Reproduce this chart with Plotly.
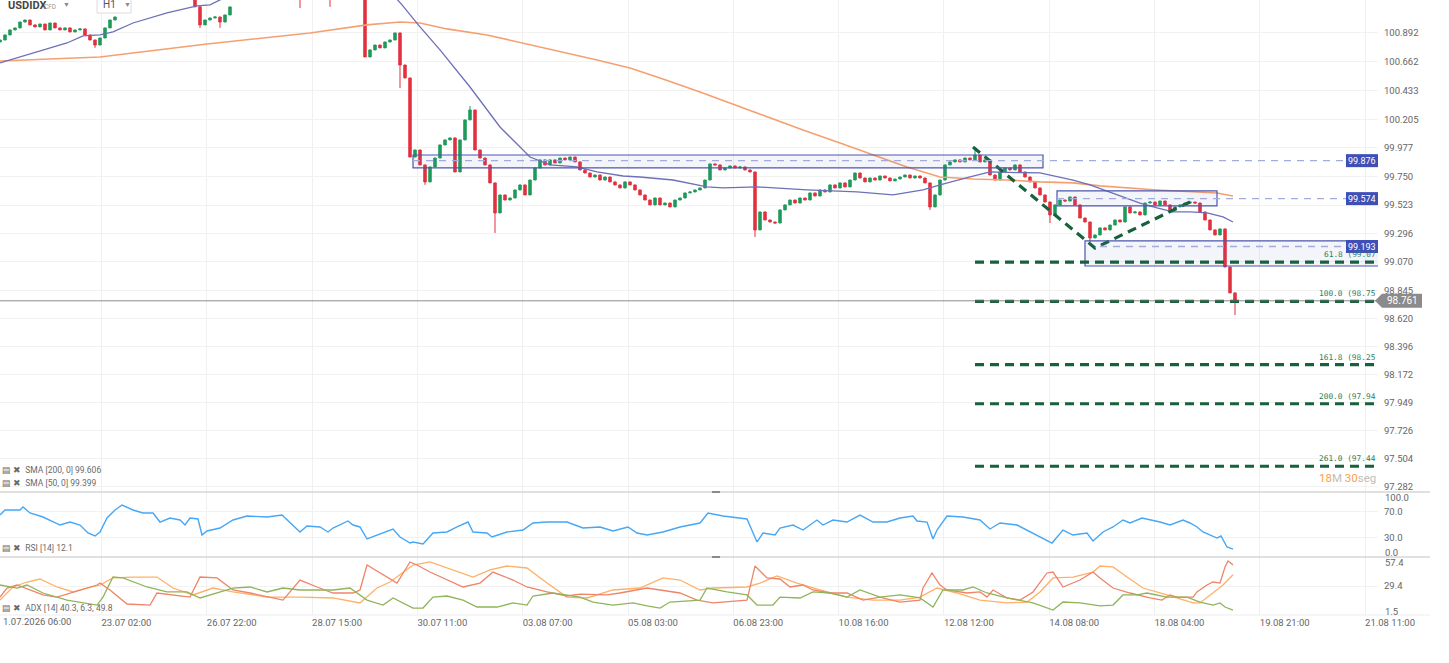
import plotly.graph_objects as go

# USDIDX H1; one candle here stands for ~2 hours
closes = [
    100.836, 100.876, 100.916, 100.932, 100.979, 100.995, 100.956, 100.940, 100.963, 100.916,
    100.971, 100.932, 100.916, 100.932, 100.900, 100.916, 100.924, 100.876, 100.836, 100.796,
    100.852, 100.932, 100.995, 101.019, 101.22, 101.31, 101.38, 101.45, 101.52, 101.48,
    101.55, 101.60, 101.52, 101.46, 101.40, 101.44, 101.36, 101.28, 101.20, 101.10,
    100.956, 100.995, 101.011, 101.019, 100.979, 101.035, 101.099, 101.20, 101.28, 101.35,
    101.42, 101.38, 101.45, 101.50, 101.44, 101.36, 101.30, 101.26, 101.22, 101.24,
    101.18, 101.25, 101.32, 101.38, 101.35, 101.30, 101.20, 101.28, 101.34, 101.40,
    101.36, 101.32, 101.28, 100.701, 100.757, 100.796, 100.773, 100.820, 100.836, 100.892,
    100.637, 100.534, 99.905, 99.961, 99.842, 99.707, 99.826, 99.897, 100.001, 100.041,
    100.057, 99.786, 100.041, 100.200, 100.279, 99.961, 99.897, 99.842, 99.699, 99.460,
    99.603, 99.563, 99.579, 99.643, 99.683, 99.603, 99.722, 99.818, 99.882, 99.842,
    99.882, 99.858, 99.897, 99.882, 99.905, 99.866, 99.802, 99.778, 99.746, 99.762,
    99.722, 99.746, 99.707, 99.683, 99.659, 99.707, 99.683, 99.643, 99.603, 99.563,
    99.524, 99.579, 99.524, 99.539, 99.508, 99.563, 99.579, 99.619, 99.627, 99.643,
    99.659, 99.722, 99.850, 99.842, 99.802, 99.818, 99.834, 99.818, 99.826, 99.802,
    99.786, 99.325, 99.468, 99.404, 99.388, 99.380, 99.484, 99.524, 99.563, 99.539,
    99.579, 99.563, 99.619, 99.595, 99.643, 99.627, 99.683, 99.659, 99.699, 99.667,
    99.722, 99.778, 99.738, 99.707, 99.738, 99.722, 99.754, 99.738, 99.715, 99.730,
    99.746, 99.762, 99.738, 99.754, 99.738, 99.699, 99.508, 99.603, 99.722, 99.842,
    99.866, 99.882, 99.866, 99.897, 99.882, 99.921, 99.866, 99.882, 99.762, 99.722,
    99.786, 99.818, 99.802, 99.842, 99.786, 99.746, 99.707, 99.659, 99.603, 99.547,
    99.444, 99.524, 99.563, 99.555, 99.587, 99.524, 99.420, 99.388, 99.261, 99.285,
    99.341, 99.325, 99.364, 99.404, 99.388, 99.508, 99.460, 99.468, 99.444, 99.539,
    99.547, 99.524, 99.555, 99.524, 99.484, 99.508, 99.524, 99.539, 99.547, 99.539,
    99.468, 99.404, 99.325, 99.285, 99.333, 99.030, 98.824, 98.760,
]
first_open = 100.82
open_gaps = {24: 101.20, 47: 101.18}
wick_high = {94: 100.311, 195: 99.985, 247: 98.800}
wick_low = {19: 100.773, 40: 100.932, 44: 100.932, 60: 101.09, 66: 101.10, 80: 100.454,
            85: 99.683, 99: 99.301, 151: 99.269, 186: 99.484, 210: 99.380, 218: 99.229,
            247: 98.648}

sma200_x = [0, 20, 41.4, 62, 73.4, 80, 84, 89.4, 97.4, 104.6, 112.6, 119.4, 126, 132, 140, 148,
            160.6, 168, 174.6, 181.4, 188, 194.6, 201.4, 208, 214.6, 220, 231.4, 243.4, 246.6]
sma200_y = [100.669, 100.701, 100.804, 100.892, 100.956, 100.979, 100.971, 100.924, 100.876,
            100.812, 100.741, 100.677, 100.613, 100.534, 100.422, 100.303, 100.120, 100.017,
            99.921, 99.826, 99.746, 99.730, 99.722, 99.707, 99.699, 99.675, 99.643, 99.619, 99.595]
sma50_x = [0, 6.6, 13.4, 16.6, 20, 22.6, 26.6, 33.4, 39.4, 42, 48, 60, 72, 77, 80.4, 84, 88, 94,
           100, 106, 110, 115.4, 119.4, 124.6, 128, 134.6, 141.4, 144.6, 151.4, 161.4, 171.4,
           178.6, 184.6, 188, 194, 198, 208, 214.6, 218, 224.6, 228, 231.4, 234.6, 238, 241.4,
           244.6, 246.6]
sma50_y = [100.653, 100.733, 100.812, 100.868, 100.876, 100.900, 100.971, 101.051, 101.107,
           101.115, 101.234, 101.473, 101.473, 101.27, 101.115, 100.940, 100.757, 100.462,
           100.144, 99.905, 99.842, 99.826, 99.786, 99.754, 99.746, 99.722, 99.667, 99.659,
           99.667, 99.643, 99.627, 99.603, 99.643, 99.683, 99.746, 99.786, 99.778, 99.722,
           99.683, 99.587, 99.539, 99.500, 99.468, 99.468, 99.460, 99.428, 99.388]

rsi_x = [0, 1, 4, 4.6, 6, 8.6, 12, 14, 16, 17.6, 19, 20, 21.4, 23, 24.4, 25.4, 26.6, 28.6, 30.6, 32,
         34, 36, 37, 38, 39.6, 40.4, 41.4, 44, 46.6, 49.4, 53.4, 56.4, 58, 60, 61.4, 64, 65.6, 66.6,
         69.6, 70.6, 72, 73.4, 75.4, 78.6, 80, 82, 82.6, 84.6, 86.6, 89.4, 91.4, 93.6, 94.6, 97.4,
         98.4, 101.4, 104.6, 106.6, 109.4, 113.4, 116.6, 120, 122.6, 125.6, 127.4, 129.4, 132.6,
         136, 140, 141.6, 144.6, 149.4, 151.4, 152.6, 155, 156, 158.6, 160.6, 163.4, 164.6, 166.6,
         169.4, 172, 174.6, 177.4, 180, 182.6, 183.4, 185.4, 186.6, 187.4, 189.4, 192.6, 196, 198,
         200, 203.4, 206.6, 210.4, 212.6, 214.6, 217.4, 218.6, 220.6, 222.6, 224.6, 226, 228.4,
         230.6, 232, 234, 236.6, 238, 239.4, 240.6, 242, 243.4, 244.2, 245.4, 246.6]
rsi_y = [64.6, 72.3, 72.3, 76.9, 67.7, 61.5, 49.2, 53.8, 49.2, 36.9, 32.3, 38.5, 60.0, 72.3, 80.0,
         76.9, 72.3, 67.7, 67.7, 53.8, 60.0, 56.9, 49.2, 60.0, 58.5, 33.8, 40.0, 44.6, 56.9, 63.1,
         61.5, 64.6, 52.3, 38.5, 47.7, 46.2, 38.5, 44.6, 55.4, 49.2, 46.2, 27.7, 33.8, 43.1, 30.8,
         21.5, 23.1, 20.0, 36.9, 38.5, 46.2, 53.8, 38.5, 36.9, 30.8, 38.5, 41.5, 52.3, 53.8, 53.8,
         44.6, 46.2, 40.0, 46.2, 36.9, 33.8, 38.5, 46.2, 52.3, 67.7, 63.1, 58.5, 23.1, 36.9, 33.8,
         44.6, 49.2, 41.5, 56.9, 49.2, 56.9, 53.8, 64.6, 53.8, 53.8, 60.0, 63.1, 55.4, 53.8, 27.7,
         41.5, 63.1, 61.5, 56.9, 43.1, 52.3, 49.2, 36.9, 21.5, 41.5, 33.8, 36.9, 24.6, 38.5, 46.2,
         56.9, 52.3, 60.0, 56.9, 53.8, 49.2, 56.9, 52.3, 46.2, 38.5, 33.8, 29.2, 32.3, 15.4, 12.1]

adx_x = [0, 2.6, 5.4, 8, 11.4, 14.6, 17.4, 20, 22.6, 26.6, 31.4, 34.6, 38.6, 42.6, 46.6, 53.4, 60,
         66.6, 72, 75.4, 78, 82.6, 86, 89.4, 94.6, 98, 101.4, 105.4, 109.4, 113.4, 117.4, 122.6,
         128, 132.6, 136, 140, 142.6, 149.4, 152, 155.4, 159.4, 164, 169.4, 174.6, 180, 184,
         187.4, 191.4, 196, 201.4, 205.4, 208, 210.6, 214.6, 218.6, 220, 222.6, 225.4, 228.6,
         233.4, 238.6, 240, 242, 244.6, 246.6]
adx_y = [15.9, 28.5, 33.3, 36.2, 28.5, 23.7, 27.5, 30.4, 37.2, 38.1, 38.1, 27.5, 20.8, 27.5, 23.7,
         18.8, 18.8, 17.9, 13.1, 27.5, 33.3, 49.7, 52.6, 46.8, 38.1, 44.9, 48.7, 46.8, 32.3, 18.8,
         17.9, 25.6, 27.5, 37.2, 35.2, 25.6, 27.5, 28.5, 32.3, 39.1, 32.3, 25.6, 18.8, 15.9, 15.9,
         18.8, 27.5, 22.7, 15.9, 13.1, 14.0, 23.7, 37.2, 38.1, 42.9, 48.7, 47.8, 38.1, 27.5, 20.8,
         13.1, 13.1, 20.8, 30.4, 40.3]
mdi_x = [0, 1.4, 3.4, 8.6, 11.4, 17.4, 19.4, 20, 22, 25.4, 30, 31.4, 38, 40, 43.4, 46.6, 50, 56.6,
         60, 63.4, 66.6, 70.6, 72, 73.4, 76.6, 79.4, 82, 83.4, 86, 89.4, 92.6, 96, 98.6, 102.6,
         105.4, 109.4, 113.4, 116, 121.4, 124, 127.4, 129.4, 136, 139.4, 142.6, 149.4, 151, 153.4,
         156, 158, 160.6, 162.6, 166, 169.4, 172.6, 176, 180, 184, 184.6, 186.4, 188, 189.4, 193.4,
         196, 197.4, 198.6, 201.4, 204, 206.6, 209.4, 210.6, 212.6, 216, 218.6, 220, 222.6, 226,
         230, 232.4, 234, 235.4, 238.6, 239.4, 241.4, 242.6, 244, 245, 245.6, 246.6]
mdi_y = [18.8, 27.5, 30.4, 20.8, 18.8, 27.5, 30.4, 32.3, 25.6, 12.1, 11.1, 22.7, 18.8, 38.1, 37.2,
         25.6, 22.7, 15.9, 35.2, 28.5, 22.7, 22.7, 25.6, 49.7, 40.1, 32.3, 52.6, 49.7, 42.9, 35.2,
         28.5, 32.3, 42.9, 35.2, 28.5, 23.7, 19.8, 21.7, 20.8, 22.7, 25.6, 27.5, 22.7, 15.9, 13.1,
         15.9, 48.7, 37.2, 36.2, 28.5, 30.4, 25.6, 22.7, 22.7, 15.9, 18.8, 14.0, 15.9, 27.5, 42.0,
         30.4, 25.6, 22.7, 23.7, 18.8, 25.6, 17.9, 15.9, 23.7, 42.0, 42.9, 28.5, 35.2, 42.9, 37.2,
         27.5, 22.7, 17.9, 15.9, 20.8, 18.8, 18.8, 23.7, 30.4, 33.3, 32.3, 47.8, 53.5, 49.8]
pdi_x = [0, 3.4, 5.4, 8.6, 13.4, 19.4, 20.6, 22.6, 24.6, 29.4, 33.4, 37.4, 40, 46.6, 50, 53.4, 56.6,
         60, 66.6, 70, 73.4, 76.6, 78.6, 82.6, 84.6, 86.6, 89.4, 92.6, 95.4, 99.4, 102.6, 105.4,
         106.6, 110.6, 116, 118.6, 122.6, 126.6, 129.4, 132, 134, 140, 141.4, 145.4, 149.4, 151.4,
         154.6, 156, 160, 162.6, 166, 169.4, 172, 176, 180, 184, 186.6, 188.6, 192.6, 194.6,
         197.4, 201.4, 206.6, 210.6, 212.6, 216, 220, 222.6, 224.6, 227.4, 229.4, 233.4, 237.4,
         240, 242.6, 244, 245, 246.6]
pdi_y = [30.4, 27.5, 30.4, 22.7, 15.9, 11.1, 18.8, 38.1, 37.2, 28.5, 23.7, 23.7, 17.9, 27.5, 28.5,
         23.7, 27.5, 25.6, 25.6, 27.5, 15.9, 11.1, 17.9, 8.2, 8.2, 18.8, 19.8, 15.9, 9.2, 9.2, 13.1,
         11.1, 19.8, 22.7, 18.8, 14.0, 11.1, 13.1, 10.2, 8.2, 14.0, 15.9, 27.5, 23.7, 20.8, 11.1,
         11.1, 18.8, 17.9, 23.7, 22.7, 18.8, 25.6, 18.8, 20.8, 17.9, 9.2, 25.6, 25.6, 28.5, 22.7,
         17.9, 13.1, 6.3, 14.0, 13.1, 10.2, 11.1, 20.8, 20.8, 22.7, 18.8, 18.8, 14.0, 11.1, 13.1,
         9.2, 6.3]

price_ticks = [100.892, 100.662, 100.433, 100.205, 99.977, 99.750, 99.523, 99.296, 99.070,
               98.845, 98.620, 98.396, 98.172, 97.949, 97.726, 97.504, 97.282]
time_ticks = [20.3, 41.36, 62.42, 83.48, 104.54, 125.6, 146.66, 167.72, 188.78, 209.84, 230.9,
              251.96, 273.02]
time_labels = ["23.07 02:00", "26.07 22:00", "28.07 15:00", "30.07 11:00", "03.08 07:00",
               "05.08 03:00", "06.08 23:00", "10.08 16:00", "12.08 12:00", "14.08 08:00",
               "18.08 04:00", "19.08 21:00", "21.08 11:00"]

zones = [(82.6, 208.6, 99.818, 99.921), (211.4, 243.4, 99.516, 99.635), (217, 276, 99.038, 99.237)]
levels = [99.876, 99.574, 99.193]
level_start = [82.6, 211.4, 220]
last_price = 98.761
fib_pct = [61.8, 100.0, 161.8, 200.0, 261.0]
fib_price = [99.068, 98.757, 98.253, 97.942, 97.445]
fib_text = ["61.8 (99.07", "100.0 (98.75", "161.8 (98.25", "200.0 (97.94", "261.0 (97.44"]
zigzag_x = [194.6, 219, 238.4]
zigzag_y = [99.985, 99.181, 99.555]

# ---- layout constants (pixels of the 1449x663 page) ----
W, H = 1449, 663
PW = 1378
FONT = "Roboto, Arial, sans-serif"
GREEN_D = "#17623c"
LEVEL_BLUE = "#3f4fb5"
PRICE_RANGE = (97.240, 101.154)
MAIN_TOP, MAIN_BOTTOM = 0, 492


def px(x):
    return x / PW


def py(y):
    return 1 - y / H


def price_py(p):
    # pixel row of a price inside the main panel
    lo, hi = PRICE_RANGE
    return MAIN_TOP + (hi - p) / (hi - lo) * (MAIN_BOTTOM - MAIN_TOP)


opens = [first_open] + closes[:-1]
for i, v in open_gaps.items():
    opens[i] = v
highs = [max(o, c) for o, c in zip(opens, closes)]
lows = [min(o, c) for o, c in zip(opens, closes)]
for i, v in wick_high.items():
    highs[i] = v
for i, v in wick_low.items():
    lows[i] = v
bars = list(range(len(closes)))

fig = go.Figure()
fig.add_trace(go.Candlestick(
    x=bars, open=opens, high=highs, low=lows, close=closes, whiskerwidth=0,
    increasing=dict(line=dict(color="#1e9a5a", width=1), fillcolor="#1e9a5a"),
    decreasing=dict(line=dict(color="#e2313f", width=1), fillcolor="#e2313f"),
    hoverinfo="skip", showlegend=False))
fig.add_trace(go.Scatter(x=sma200_x, y=sma200_y, mode="lines", line=dict(color="#f5a071", width=1.6),
                         hoverinfo="skip", showlegend=False))
fig.add_trace(go.Scatter(x=sma50_x, y=sma50_y, mode="lines", line=dict(color="#6d70b8", width=1.3),
                         hoverinfo="skip", showlegend=False))
fig.add_trace(go.Scatter(x=zigzag_x, y=zigzag_y, mode="lines",
                         line=dict(color=GREEN_D, width=3.2, dash="9px,6px"),
                         hoverinfo="skip", showlegend=False))
fig.add_trace(go.Scatter(x=rsi_x, y=rsi_y, yaxis="y2", mode="lines",
                         line=dict(color="#45a7f5", width=1.4), hoverinfo="skip", showlegend=False))
for xs, ys, col in [(adx_x, adx_y, "#ffb066"), (mdi_x, mdi_y, "#ee8468"), (pdi_x, pdi_y, "#8fb55a")]:
    fig.add_trace(go.Scatter(x=xs, y=ys, yaxis="y3", mode="lines", line=dict(color=col, width=1.3),
                             hoverinfo="skip", showlegend=False))

shapes = []
for x0, x1, lo, hi in zones:
    shapes.append(dict(type="rect", xref="x", yref="y", x0=x0, x1=x1, y0=lo, y1=hi,
                       line=dict(color="#4c56ad", width=1.2), fillcolor="rgba(92,107,192,0.07)"))
for lv, x0 in zip(levels, level_start):
    shapes.append(dict(type="line", xref="x", yref="y", x0=x0, x1=269.2, y0=lv, y1=lv,
                       line=dict(color="#a3abdc", width=1.3, dash="7px,6px")))
for fp in fib_price:
    shapes.append(dict(type="line", xref="x", yref="y", x0=195, x1=276, y0=fp, y1=fp,
                       line=dict(color=GREEN_D, width=3.2, dash="9px,6px")))
shapes.append(dict(type="line", xref="x", yref="y", x0=0, x1=276, y0=last_price, y1=last_price,
                   line=dict(color="#707070", width=0.8)))

# price labels on the right edge, placed in page pixels so nothing clips them
for lv in levels:
    yc = price_py(lv)
    shapes.append(dict(type="rect", xref="paper", yref="paper", x0=px(1346), x1=px(1378),
                       y0=py(yc + 6.5), y1=py(yc - 6.5), line=dict(width=0), fillcolor=LEVEL_BLUE))
yc = price_py(last_price)
shapes.append(dict(type="path", xref="paper", yref="paper", fillcolor="#8b8b8b", line=dict(width=0),
                   path=(f"M {px(1375)},{py(yc)} L {px(1382)},{py(yc - 7)} "
                         f"L {px(1422)},{py(yc - 7)} L {px(1422)},{py(yc + 7)} "
                         f"L {px(1382)},{py(yc + 7)} Z")))
for yy in (492, 557):
    shapes.append(dict(type="line", xref="paper", yref="paper", x0=0, x1=px(1430), y0=py(yy), y1=py(yy),
                       line=dict(color="#d6d6d6", width=1.5)))
    shapes.append(dict(type="line", xref="paper", yref="paper", x0=px(712), x1=px(720),
                       y0=py(yy), y1=py(yy), line=dict(color="#8a8a8a", width=2)))
shapes.append(dict(type="line", xref="paper", yref="paper", x0=0, x1=px(1430), y0=py(615), y1=py(615),
                   line=dict(color="#ededed", width=1)))
shapes.append(dict(type="rect", xref="paper", yref="paper", x0=px(97), x1=px(131), y0=py(13), y1=py(-3),
                   line=dict(color="#dcdcdc", width=1), fillcolor="white"))


def note(text, x, y, size=9.5, color="#666", xanchor="left", family=FONT, **kw):
    return dict(text=text, x=px(x), y=py(y), xref="paper", yref="paper", xanchor=xanchor,
                yanchor="middle", showarrow=False, font=dict(size=size, color=color, family=family), **kw)


annotations = [
    note("<b>USDIDX</b>", 6, 6, size=11, color="#454545"),
    note("CFD", 42, 7, size=6.5, color="#9a9a9a"),
    note("▼", 61, 5, size=7, color="#8a8a8a"),
    note("H1", 101, 5, size=10, color="#555"),
    note("▼", 122, 5, size=7, color="#8a8a8a"),
    note("▤ ✖  SMA [200, 0] 99.606", 0, 470, size=8.5, color="#6a6a6a"),
    note("▤ ✖  SMA [50, 0] 99.399", 0, 483, size=8.5, color="#6a6a6a"),
    note("▤ ✖  RSI [14] 12.1", 0, 548, size=8.5, color="#6a6a6a"),
    note("▤ ✖  ADX [14] 40.3, 6.3, 49.8", 0, 608, size=8.5, color="#6a6a6a"),
    note("1.07.2026 06:00", 1, 621),
    note("100.0", 1383, 497),
    note("0.0", 1383, 552),
    note("57.4", 1383, 562),
    note("1.5", 1383, 611),
    note("<span style='color:#f7a14a'>18</span><span style='color:#bdbdbd'>M </span>"
         "<span style='color:#f7a14a'>30</span><span style='color:#bdbdbd'>seg</span>",
         1378, 478, size=11.5, xanchor="right"),
]
for lv in levels:
    annotations.append(note(f"{lv:.3f}", 1362, price_py(lv), size=9, color="white", xanchor="center"))
annotations.append(note(f"{last_price:.3f}", 1403, price_py(last_price), size=10, color="white",
                        xanchor="center"))
for fp, txt in zip(fib_price, fib_text):
    annotations.append(dict(text=txt, x=1, y=fp, xref="paper", yref="y", xanchor="right",
                            yanchor="bottom", yshift=1, showarrow=False,
                            font=dict(size=7.8, color="#2f7d57", family="DejaVu Sans Mono")))

tick_font = dict(size=9.5, color="#666", family=FONT)
fig.update_layout(
    width=W, height=H, autosize=False, margin=dict(l=0, r=W - PW, t=0, b=0),
    paper_bgcolor="white", plot_bgcolor="white", showlegend=False,
    shapes=shapes, annotations=annotations,
    xaxis=dict(range=[0, PW / 5], anchor="y3", tickvals=time_ticks, ticktext=time_labels,
               ticklabelposition="outside right", tickfont=tick_font, showgrid=True,
               gridcolor="#f0f0f0", zeroline=False, showline=False, ticks="",
               rangeslider=dict(visible=False)),
    yaxis=dict(domain=[py(MAIN_BOTTOM), py(MAIN_TOP)], range=list(PRICE_RANGE), side="right",
               anchor="x", tickvals=price_ticks, ticktext=[f"{v:.3f}" for v in price_ticks],
               tickfont=tick_font, gridcolor="#f2f2f2", zeroline=False, ticks="", ticklabelstandoff=5),
    yaxis2=dict(domain=[py(557), py(492)], range=[0, 100], side="right", anchor="x",
                tickvals=[30, 70], ticktext=["30.0", "70.0"], tickfont=tick_font,
                gridcolor="#f2f2f2", zeroline=False, ticks="", ticklabelstandoff=5),
    yaxis3=dict(domain=[py(615), py(557)], range=[1.5, 57.4], side="right", anchor="x",
                tickvals=[29.4], ticktext=["29.4"], tickfont=tick_font,
                gridcolor="#f2f2f2", zeroline=False, ticks="", ticklabelstandoff=5),
)

# the page's default body margin would push the fixed-size figure 8px in; drop it
fig.write_html("out.html", config={"displayModeBar": False},
               post_script="document.body.style.margin='0';")
